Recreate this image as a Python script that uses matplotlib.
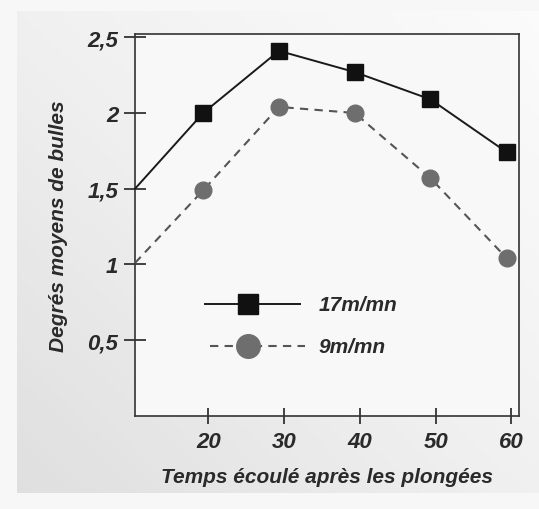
import matplotlib
matplotlib.use('Agg')
import matplotlib.pyplot as plt
from matplotlib.patches import Rectangle
import numpy as np

# data
x_17 = [10.3, 19.3, 29.3, 39.3, 49.3, 59.4]
y_17 = [1.50, 2.00, 2.41, 2.27, 2.09, 1.74]
x_9 = [10.3, 19.3, 29.3, 39.3, 49.3, 59.4]
y_9 = [1.01, 1.49, 2.04, 2.00, 1.57, 1.04]
xticks = [20, 30, 40, 50, 60]
yticks = [0.5, 1, 1.5, 2, 2.5]
ytick_labels = ['0,5', '1', '1,5', '2', '2,5']
labels = ['17m/mn', '9m/mn']

plt.rcParams['font.family'] = ['Liberation Sans', 'DejaVu Sans']
FONT = dict(style='italic', weight='bold', color='#2a2a2a')

fig = plt.figure(figsize=(5.39, 5.10), dpi=100, facecolor='#f6f6f6')

# scan paper: light grey, a bit darker towards bottom-left, pale frame at the edges
bg = fig.add_axes([0, 0, 1, 1], zorder=-10)
gx, gy = np.meshgrid(np.linspace(0, 1, 200), np.linspace(0, 1, 200))
bg.imshow(0.5*gx + 0.5*gy, cmap='Greys_r', vmin=-4.0, vmax=1.15, extent=[0, 1, 0, 1],
          origin='lower', aspect='auto')
bg.add_patch(Rectangle((0, 0), 17/539, 1, color='#f7f7f7', lw=0))
bg.add_patch(Rectangle((0, 0), 1, 16/510, color='#f7f7f7', lw=0))
bg.add_patch(Rectangle((0, 1 - 12/510), 1, 12/510, color='#f7f7f7', lw=0))
bg.set_xlim(0, 1); bg.set_ylim(0, 1)
bg.axis('off')

ax = fig.add_axes([0.2505, 0.1824, 0.7125, 0.7486])
ax.set_facecolor('#f8f8f8')
ax.plot(x_17, y_17, color='#1a1a1a', lw=1.4, marker='s', ms=11, mfc='#111111', mec='#111111',
        markevery=range(1, len(x_17)), clip_on=False, zorder=3)
ax.plot(x_9, y_9, color='#555555', lw=1.5, ls=(0, (4, 3)), marker='o', ms=12, mfc='#6e6e6e', mec='#6e6e6e',
        markevery=range(1, len(x_9)), clip_on=False, zorder=3)

ax.set_xlim(10.3, 61.0)
ax.set_ylim(0, 2.52)
ax.set_xticks(xticks)
ax.set_xticklabels([str(v) for v in xticks], fontsize=16, **FONT)
ax.set_yticks(yticks)
ax.set_yticklabels(ytick_labels, fontsize=16, **FONT)
ax.tick_params(axis='y', direction='inout', length=16, width=1.3, color='#333333', pad=4)
ax.tick_params(axis='x', direction='inout', length=11, width=1.3, color='#333333', pad=5)
for s in ax.spines.values():
    s.set_color('#333333'); s.set_linewidth(1.2)

ax.set_xlabel('Temps écoulé après les plongées', fontsize=15, labelpad=11, **FONT)
ax.set_ylabel('Degrés moyens de bulles', fontsize=15, labelpad=14, **FONT)

# hand-drawn legend inside the axes
ax.plot([0.182, 0.43], [0.293, 0.293], transform=ax.transAxes, color='#1a1a1a', lw=1.4)
ax.plot([0.294], [0.293], transform=ax.transAxes, marker='s', ms=14, color='#111111')
ax.text(0.477, 0.293, labels[0], transform=ax.transAxes, fontsize=15, va='center', **FONT)
ax.plot([0.195, 0.443], [0.183, 0.183], transform=ax.transAxes, color='#555555', lw=1.5, ls=(0, (4, 3)))
ax.plot([0.294], [0.183], transform=ax.transAxes, marker='o', ms=17, color='#6e6e6e')
ax.text(0.477, 0.183, labels[1], transform=ax.transAxes, fontsize=15, va='center', **FONT)

plt.savefig('out.png', dpi=100, facecolor=fig.get_facecolor())
